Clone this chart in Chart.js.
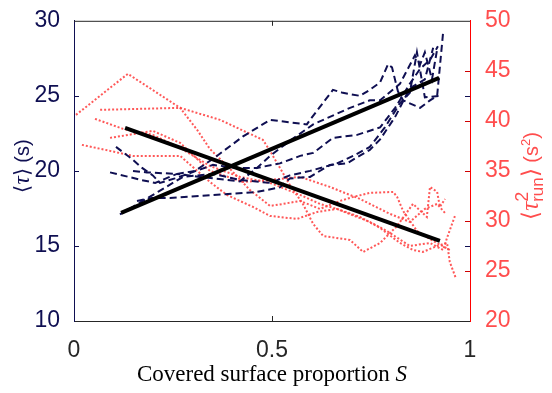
<!DOCTYPE html>
<html>
<head>
<meta charset="utf-8">
<script src="https://cdn.jsdelivr.net/npm/chart.js@4"></script>
<style>
  body { margin: 0; background: #fff; }
  canvas { display: block; }
</style>
</head>
<body>
<canvas id="chart" width="552" height="393"></canvas>
<script>
// covered surface proportion S for each run, and mean time <tau> (s), left axis
const tauS1 = [0.106, 0.146, 0.172, 0.199, 0.217, 0.255, 0.351, 0.412, 0.462, 0.520, 0.571, 0.604, 0.654, 0.715, 0.773, 0.811, 0.848, 0.874, 0.899, 0.919];
const tauV1 = [21.6, 20.8, 20.2, 19.7, 19.2, 19.5, 20.4, 20.2, 20.2, 20.5, 21.0, 21.2, 22.2, 22.4, 22.9, 24.2, 25.8, 26.8, 27.4, 28.3];
const tauS2 = [0.091, 0.169, 0.205, 0.260, 0.318, 0.419, 0.462, 0.495, 0.545, 0.604, 0.697, 0.747, 0.773, 0.823, 0.861, 0.874, 0.886, 0.904, 0.917];
const tauV2 = [19.9, 19.4, 19.2, 19.8, 19.6, 19.3, 20.2, 21.0, 22.0, 23.1, 24.2, 24.7, 24.7, 25.8, 27.7, 27.1, 27.9, 26.1, 28.1];
const tauS3 = [0.149, 0.184, 0.260, 0.306, 0.356, 0.427, 0.495, 0.588, 0.596, 0.654, 0.679, 0.722, 0.747, 0.773, 0.793, 0.803, 0.818, 0.831, 0.874, 0.899, 0.917, 0.932];
const tauV3 = [20.0, 19.9, 19.8, 20.0, 20.9, 22.3, 23.4, 23.1, 23.4, 25.4, 25.2, 25.0, 25.4, 25.9, 27.1, 26.9, 25.3, 24.7, 24.2, 24.7, 25.0, 29.2];
const tauS4 = [0.159, 0.197, 0.242, 0.351, 0.462, 0.520, 0.545, 0.596, 0.646, 0.689, 0.747, 0.773, 0.811, 0.848, 0.886, 0.907];
const tauV4 = [18.0, 18.2, 18.2, 18.4, 18.6, 18.9, 19.5, 19.6, 20.4, 20.5, 21.4, 22.1, 23.6, 25.5, 26.1, 28.2];
const tauS5 = [0.116, 0.212, 0.275, 0.351, 0.419, 0.495, 0.545, 0.596, 0.664, 0.705, 0.747, 0.785, 0.823, 0.848, 0.866, 0.886, 0.924];
const tauV5 = [17.1, 18.6, 19.6, 19.8, 19.4, 19.2, 19.7, 20.0, 20.5, 21.0, 21.6, 22.9, 24.5, 25.2, 27.9, 24.9, 25.0];

// mean squared run time <tau_run^2> (s^2), right axis
const runS1 = [0.005, 0.136, 0.268, 0.311, 0.343, 0.394, 0.444, 0.495, 0.528, 0.571, 0.621, 0.672, 0.705, 0.747, 0.806, 0.816, 0.831, 0.866, 0.907, 0.949];
const runV1 = [40.6, 44.7, 41.3, 39.1, 37.2, 35.2, 33.1, 31.5, 31.7, 32.0, 31.2, 32.0, 32.4, 32.8, 32.9, 32.4, 31.0, 29.0, 28.0, 27.1];
const runS2 = [0.066, 0.268, 0.369, 0.477, 0.495, 0.545, 0.578, 0.604, 0.629, 0.697, 0.730, 0.773, 0.816, 0.856, 0.891, 0.899, 0.917, 0.924, 0.937];
const runV2 = [41.1, 41.3, 40.1, 38.1, 37.0, 33.6, 31.7, 29.7, 28.5, 28.1, 26.9, 27.8, 29.5, 31.7, 30.4, 33.4, 32.9, 31.4, 32.2];
const runS3 = [0.053, 0.124, 0.199, 0.268, 0.343, 0.419, 0.495, 0.571, 0.621, 0.664, 0.722, 0.773, 0.823, 0.856, 0.881, 0.917, 0.942, 0.949, 0.965];
const runV3 = [40.2, 39.2, 38.6, 37.3, 35.5, 34.4, 33.8, 32.6, 31.7, 31.2, 30.4, 29.3, 27.8, 27.1, 26.9, 27.5, 27.8, 25.9, 24.2];
const runS4 = [0.091, 0.199, 0.268, 0.343, 0.427, 0.495, 0.571, 0.646, 0.722, 0.798, 0.848, 0.886, 0.917, 0.939];
const runV4 = [38.3, 39.0, 37.8, 35.0, 33.9, 34.1, 34.4, 33.4, 32.2, 30.7, 29.9, 31.2, 31.7, 30.7];
const runS5 = [0.020, 0.091, 0.149, 0.268, 0.343, 0.386, 0.452, 0.495, 0.563, 0.614, 0.664, 0.747, 0.790, 0.848, 0.899, 0.932, 0.942, 0.962];
const runV5 = [37.6, 37.0, 36.5, 36.5, 33.9, 32.6, 31.4, 30.5, 30.2, 30.9, 31.2, 29.9, 29.0, 27.5, 27.8, 27.1, 28.3, 30.5];

// linear fits
const fitTauS = [0.119, 0.922];
const fitTauV = [17.2, 26.2];
const fitRunS = [0.129, 0.924];
const fitRunV = [39.3, 28.0];

const navy = '#0f0f52';
const red = '#ff4d4d';
const pts = (xs, ys) => xs.map((x, i) => ({ x: x, y: ys[i] }));

const tauSets = [[tauS1, tauV1], [tauS2, tauV2], [tauS3, tauV3], [tauS4, tauV4], [tauS5, tauV5]];
const runSets = [[runS1, runV1], [runS2, runV2], [runS3, runV3], [runS4, runV4], [runS5, runV5]];

const datasets = [
  { data: pts(fitTauS, fitTauV), yAxisID: 'yL', borderColor: '#000', borderWidth: 4 },
  { data: pts(fitRunS, fitRunV), yAxisID: 'yR', borderColor: '#000', borderWidth: 4 },
];
tauSets.forEach(([s, v]) => datasets.push({
  data: pts(s, v), yAxisID: 'yL', borderColor: navy, borderWidth: 2, borderDash: [7, 4]
}));
runSets.forEach(([s, v]) => datasets.push({
  data: pts(s, v), yAxisID: 'yR', borderColor: 'rgba(255,70,70,0.9)', borderWidth: 2, borderDash: [2, 2]
}));

// draws a list of text pieces rotated, centred on (cx, cy)
function drawRotated(ctx, cx, cy, pieces, color) {
  ctx.save();
  ctx.translate(cx, cy);
  ctx.rotate(-Math.PI / 2);
  ctx.fillStyle = color;
  ctx.textBaseline = 'alphabetic';
  ctx.textAlign = 'left';
  let total = 0;
  pieces.forEach(p => {
    let w = 0;
    p.parts.forEach(q => { ctx.font = q.font; w = Math.max(w, ctx.measureText(q.text).width); });
    p.w = w;
    total += w;
  });
  let x = -total / 2;
  pieces.forEach(p => {
    p.parts.forEach(q => { ctx.font = q.font; ctx.fillText(q.text, x, 7 + (q.dy || 0)); });
    x += p.w;
  });
  ctx.restore();
}

const sans = '"Liberation Sans", Arial, sans-serif';
const serif = '"Liberation Serif", "Times New Roman", serif';

const decor = {
  id: 'decor',
  afterDraw(chart) {
    const { ctx, chartArea: a, scales } = chart;
    ctx.save();
    ctx.lineWidth = 1;
    // top frame line
    ctx.strokeStyle = '#262626';
    ctx.beginPath();
    ctx.moveTo(a.left, a.top + 0.5);
    ctx.lineTo(a.right, a.top + 0.5);
    ctx.stroke();
    // inward ticks
    [15, 20, 25].forEach(v => {
      const y = Math.round(scales.yL.getPixelForValue(v)) + 0.5;
      ctx.strokeStyle = navy;
      ctx.beginPath();
      ctx.moveTo(a.left, y); ctx.lineTo(a.left + 5, y);
      ctx.moveTo(a.right, y); ctx.lineTo(a.right - 5, y);
      ctx.stroke();
    });
    [25, 30, 35, 40, 45].forEach(v => {
      const y = Math.round(scales.yR.getPixelForValue(v)) + 0.5;
      ctx.strokeStyle = '#d00000';
      ctx.beginPath();
      ctx.moveTo(a.right, y); ctx.lineTo(a.right - 5, y);
      ctx.stroke();
    });
    const xm = Math.round(scales.x.getPixelForValue(0.5)) + 0.5;
    ctx.strokeStyle = '#262626';
    ctx.beginPath();
    ctx.moveTo(xm, a.bottom); ctx.lineTo(xm, a.bottom - 5);
    ctx.moveTo(xm, a.top); ctx.lineTo(xm, a.top + 5);
    ctx.stroke();

    // x axis title
    ctx.fillStyle = '#000';
    ctx.textBaseline = 'alphabetic';
    ctx.textAlign = 'left';
    const t1 = 'Covered surface proportion ';
    ctx.font = '23px ' + serif;
    const w1 = ctx.measureText(t1).width;
    ctx.font = 'italic 23px ' + serif;
    const w2 = ctx.measureText('S').width;
    const x0 = (a.left + a.right) / 2 - (w1 + w2) / 2;
    ctx.font = '23px ' + serif;
    ctx.fillText(t1, x0, 381);
    ctx.font = 'italic 23px ' + serif;
    ctx.fillText('S', x0 + w1, 381);
    ctx.restore();

    // left y title: <tau> (s)
    drawRotated(ctx, 22, 166, [
      { parts: [{ text: '\u27E8', font: '21px ' + sans }] },
      { parts: [{ text: '\u03C4', font: 'italic 23px ' + serif }] },
      { parts: [{ text: '\u27E9', font: '21px ' + sans }] },
      { parts: [{ text: ' (s)', font: '20px ' + sans }] },
    ], navy);

    // right y title: <tau_run^2> (s^2)
    drawRotated(ctx, 531, 176, [
      { parts: [{ text: '\u27E8', font: '23px ' + sans }] },
      { parts: [{ text: '\u03C4', font: 'italic 25px ' + serif }] },
      { parts: [{ text: '2', font: '18px ' + sans, dy: -10 }, { text: 'run', font: '17px ' + sans, dy: 5 }] },
      { parts: [{ text: '\u27E9', font: '23px ' + sans }] },
      { parts: [{ text: ' (s', font: '20px ' + sans }] },
      { parts: [{ text: '2', font: '13px ' + sans, dy: -8 }] },
      { parts: [{ text: ')', font: '20px ' + sans }] },
    ], red);
  }
};

new Chart(document.getElementById('chart'), {
  type: 'line',
  data: { datasets: datasets },
  options: {
    responsive: false,
    animation: false,
    devicePixelRatio: 1,
    layout: { padding: { top: 10, left: 0, right: 0, bottom: 0 } },
    elements: { point: { radius: 0 }, line: { tension: 0, fill: false } },
    plugins: { legend: { display: false }, tooltip: { enabled: false } },
    scales: {
      x: {
        type: 'linear', min: 0, max: 1,
        grid: { display: false },
        border: { color: '#262626', width: 1 },
        ticks: {
          stepSize: 0.5, padding: 8, color: '#262626',
          font: { family: sans, size: 23 },
          callback: v => String(v)
        },
        afterFit: s => { s.height = 72; }
      },
      yL: {
        type: 'linear', position: 'left', min: 10, max: 30,
        grid: { display: false },
        border: { color: navy, width: 1 },
        ticks: { stepSize: 5, padding: 6, color: navy, font: { family: sans, size: 23 } },
        afterFit: s => { s.width = 74; }
      },
      yR: {
        type: 'linear', position: 'right', min: 20, max: 50,
        grid: { display: false },
        border: { color: '#ff0000', width: 1 },
        ticks: { stepSize: 5, padding: 7, color: red, font: { family: sans, size: 23 } },
        afterFit: s => { s.width = 82; }
      }
    }
  },
  plugins: [decor]
});
</script>
</body>
</html>
